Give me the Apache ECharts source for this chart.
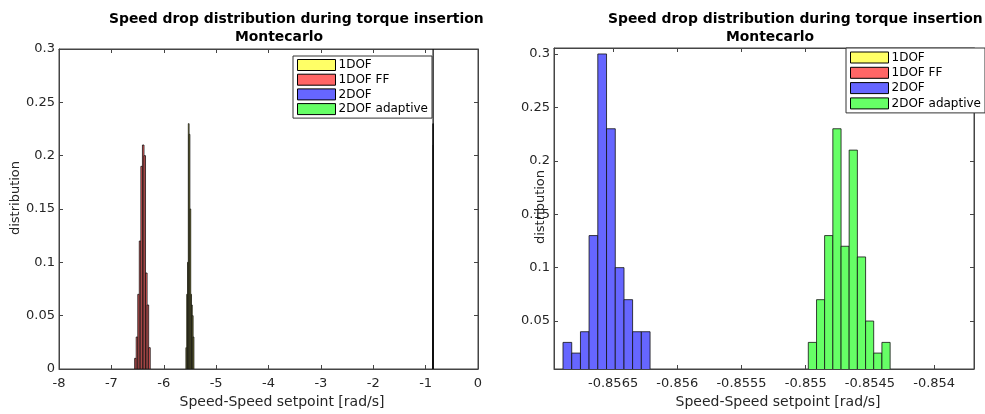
<!DOCTYPE html>
<html><head><meta charset="utf-8">
<script src="https://cdn.jsdelivr.net/npm/echarts@6/dist/echarts.min.js"></script>
<style>html,body{margin:0;padding:0;background:#fff}#c{width:985px;height:414px}</style>
</head><body><div id="c"></div>
<script>
// ---------- data ----------
const seriesNames = ['1DOF', '1DOF FF', '2DOF', '2DOF adaptive'];

// bin edges and heights
const dof1Edges  = [-5.577, -5.562, -5.546, -5.531, -5.516, -5.501, -5.485, -5.470, -5.455, -5.439, -5.424];
const dof1Values = [0.02, 0.07, 0.10, 0.23, 0.22, 0.15, 0.07, 0.06, 0.05, 0.03];

const dof1ffEdges  = [-6.556, -6.526, -6.496, -6.467, -6.437, -6.407, -6.377, -6.348, -6.318, -6.288, -6.258];
const dof1ffValues = [0.01, 0.03, 0.07, 0.12, 0.19, 0.21, 0.20, 0.09, 0.06, 0.02];

const dof2Edges  = [-0.856890, -0.856822, -0.856754, -0.856687, -0.856619, -0.856551, -0.856483, -0.856415, -0.856348, -0.856280, -0.856212];
const dof2Values = [0.03, 0.02, 0.04, 0.13, 0.30, 0.23, 0.10, 0.07, 0.04, 0.04];

const dof2adEdges  = [-0.854980, -0.854916, -0.854853, -0.854789, -0.854725, -0.854662, -0.854598, -0.854534, -0.854471, -0.854407, -0.854343];
const dof2adValues = [0.03, 0.07, 0.13, 0.23, 0.12, 0.21, 0.11, 0.05, 0.02, 0.03];

// tick labels
const rightXTicks = [-0.8565, -0.856, -0.8555, -0.855, -0.8545, -0.854];
const rightYTicks = [0.05, 0.1, 0.15, 0.2, 0.25, 0.3];

const titleLine1 = 'Speed drop distribution during torque insertion';
const titleLine2 = 'Montecarlo';
const xName = 'Speed-Speed setpoint [rad/s]';
const yName = 'distribution';

// ---------- build ----------
const colors = ['#ffff66', '#ff6666', '#6666ff', '#66ff66'];
const allEdges = [dof1Edges, dof1ffEdges, dof2Edges, dof2adEdges];
const allValues = [dof1Values, dof1ffValues, dof2Values, dof2adValues];

function toBins(edges, vals) {
  return vals.map((v, i) => [edges[i], edges[i + 1], v]);
}
function renderItem(params, api) {
  const p0 = api.coord([api.value(0), api.value(2)]);
  const p1 = api.coord([api.value(1), 0]);
  return {
    type: 'rect',
    shape: { x: p0[0], y: p0[1], width: p1[0] - p0[0], height: p1[1] - p0[1] },
    style: { fill: api.visual('color'), stroke: '#111', lineWidth: 0.8 }
  };
}
const FONT = 'DejaVu Sans';
const TXT = '#262626';
const fmt = v => String(+(+v).toFixed(5));

function xAx(gi, min, max, extra, top) {
  return Object.assign({
    type: 'value', gridIndex: gi, min, max, position: top ? 'top' : 'bottom',
    axisLine: { show: true, onZero: false, lineStyle: { color: '#444', width: 1 } },
    axisTick: { show: true, inside: true, length: 4, lineStyle: { color: '#444' } },
    axisLabel: { show: !top, color: TXT, fontFamily: FONT, fontSize: 13, margin: 8, formatter: fmt },
    splitLine: { show: false }
  }, extra || {});
}
function yAx(gi, min, max, extra, right) {
  return Object.assign({
    type: 'value', gridIndex: gi, min, max, position: right ? 'right' : 'left',
    axisLine: { show: true, onZero: false, lineStyle: { color: '#444', width: 1 } },
    axisTick: { show: true, inside: true, length: 4, lineStyle: { color: '#444' } },
    axisLabel: { show: !right, color: TXT, fontFamily: FONT, fontSize: 13, margin: 4, formatter: fmt },
    splitLine: { show: false }
  }, extra || {});
}

const tickStyle = { show: true, inside: true, length: 4, lineStyle: { color: '#444' } };
const rightXExtra = { axisLabel: { color: TXT, fontFamily: FONT, fontSize: 13, margin: 8, formatter: fmt, customValues: rightXTicks },
                      axisTick: Object.assign({ customValues: rightXTicks }, tickStyle) };
const rightXExtraTop = { axisLabel: { show: false }, axisTick: Object.assign({ customValues: rightXTicks }, tickStyle) };
const rightYExtra = { axisLabel: { color: TXT, fontFamily: FONT, fontSize: 13, margin: 4, formatter: fmt, customValues: rightYTicks },
                      axisTick: Object.assign({ customValues: rightYTicks }, tickStyle) };
const rightYExtraR = { axisLabel: { show: false }, axisTick: Object.assign({ customValues: rightYTicks }, tickStyle) };

const series = [];
[[0, 0], [2, 2]].forEach(([xi, yi]) => {
  seriesNames.forEach((n, k) => {
    series.push({
      type: 'custom', name: n, xAxisIndex: xi, yAxisIndex: yi, clip: true,
      itemStyle: { color: colors[k], borderColor: '#000', borderWidth: 1 },
      encode: { x: [0, 1], y: 2 },
      data: toBins(allEdges[k], allValues[k]),
      renderItem, silent: true
    });
  });
});

function legendAt(left, top, gap, pad, tw) {
  return {
    orient: 'vertical', left, top, data: seriesNames, icon: 'rect',
    itemWidth: 38, itemHeight: 11, itemGap: gap, padding: pad, selectedMode: false,
    backgroundColor: '#fff', borderColor: '#333', borderWidth: 1,
    itemStyle: { borderColor: '#000', borderWidth: 1 },
    textStyle: { fontFamily: FONT, fontSize: 12, lineHeight: 12, color: '#000', width: tw, overflow: 'none', padding: [0, 0, 0, -2] }
  };
}

function txt(x, y, text, opts) {
  return Object.assign({
    type: 'text', x, y, silent: true,
    style: Object.assign({ text, fontFamily: FONT, fontSize: 14, fill: '#000', textAlign: 'center', textVerticalAlign: 'middle' }, (opts && opts.style) || {})
  }, opts && opts.rotation ? { rotation: opts.rotation } : {});
}

const option = {
  animation: false,
  backgroundColor: '#fff',
  grid: [
    { left: 59, top: 49, width: 419, height: 320, show: true, borderColor: '#444', borderWidth: 1, backgroundColor: '#fff' },
    { left: 554, top: 48, width: 420, height: 321, show: true, borderColor: '#444', borderWidth: 1, backgroundColor: '#fff' }
  ],
  xAxis: [
    xAx(0, -8, 0, { interval: 1 }),
    xAx(0, -8, 0, { interval: 1 }, true),
    xAx(1, -0.85696, -0.85369, rightXExtra),
    xAx(1, -0.85696, -0.85369, rightXExtraTop, true)
  ],
  yAxis: [
    yAx(0, 0, 0.3, { interval: 0.05 }),
    yAx(0, 0, 0.3, { interval: 0.05 }, true),
    yAx(1, 0.0051, 0.3056, rightYExtra),
    yAx(1, 0.0051, 0.3056, rightYExtraR, true)
  ],
  legend: [legendAt(293, 56, 2.7, [3, 4, 3, 4], 81), legendAt(846, 48, 3.3, [3.5, 4, 3.5, 4], 74)],
  series,
  graphic: [
    txt(109, 19, titleLine1, { style: { fontWeight: 'bold', textAlign: 'left', fontSize: 13.9 } }),
    txt(279, 37, titleLine2, { style: { fontWeight: 'bold', fontSize: 13.9 } }),
    txt(608, 19, titleLine1, { style: { fontWeight: 'bold', textAlign: 'left', fontSize: 13.9 } }),
    txt(770, 37, titleLine2, { style: { fontWeight: 'bold', fontSize: 13.9 } }),
    txt(282, 402, xName, { style: { fill: TXT } }),
    txt(778, 402, xName, { style: { fill: TXT } }),
    txt(16, 198, yName, { rotation: Math.PI / 2, style: { fill: TXT, fontSize: 13 } }),
    txt(541, 207, yName, { rotation: Math.PI / 2, style: { fill: TXT, fontSize: 13 } })
  ]
};
echarts.init(document.getElementById('c'), null, { renderer: 'canvas' }).setOption(option);
</script>
</body></html>
